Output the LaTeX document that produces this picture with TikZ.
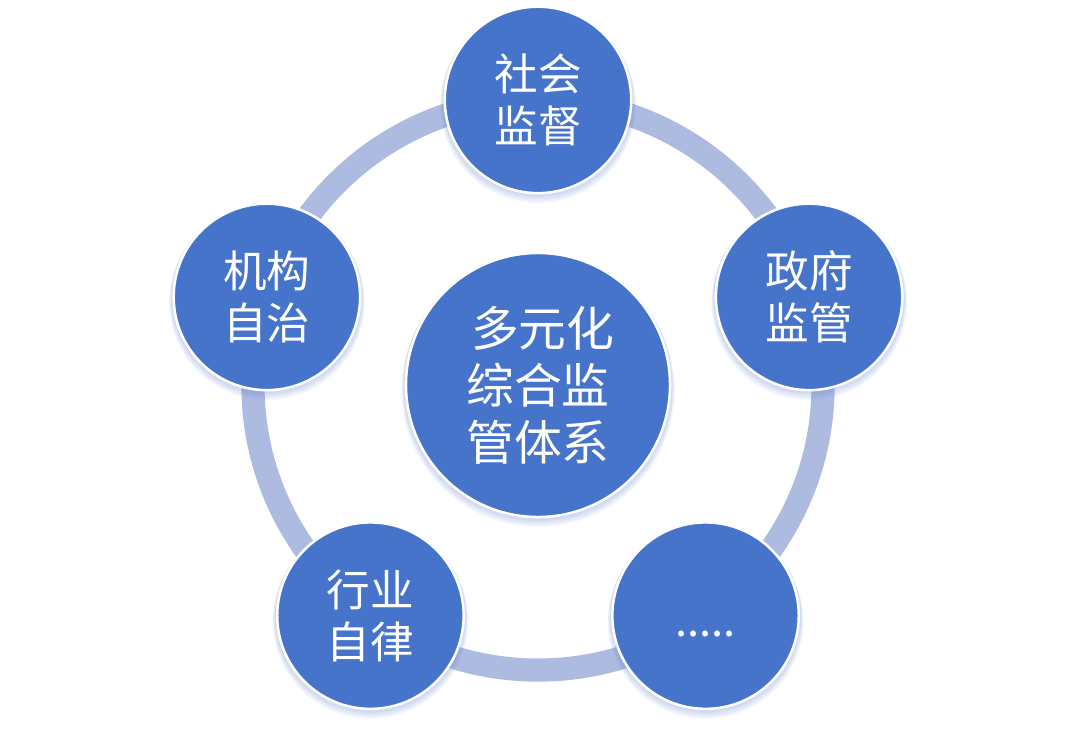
\documentclass[tikz,border=0pt]{standalone}
\usepackage{fontspec}
\setmainfont{Noto Sans CJK SC}
\usetikzlibrary{positioning}
\definecolor{hubBlue}{RGB}{70,116,202}
\definecolor{ringLav}{RGB}{174,187,225}
\definecolor{glowBlue}{RGB}{110,140,215}

\begin{document}
\begin{tikzpicture}[x=0.025cm, y=0.025cm,
    ring/.style={draw=ringLav, line width=0.58cm},
    glow/.style={fill=glowBlue, opacity=0.06},
    sat/.style={circle, draw=white, line width=1.8pt, fill=hubBlue,
                text=white, align=center, inner sep=0pt, minimum size=4.66cm,
                font=\fontsize{31}{37}\selectfont},
    hub/.style={sat, minimum size=6.6cm, font=\fontsize{34}{40.5}\selectfont}
  ]
    \useasboundingbox (0,0) rectangle (1076,732);
    \coordinate (O) at (538,347);
    % Ring
    \draw[ring] (O) circle [radius=7.125cm];
    % Soft glow under the circles
    \foreach \a in {90,162,234,306,18}
      \foreach \i in {1,...,7}
        \fill[glow] ([shift={(\a:7.125cm)}, yshift=-\i*0.55pt]O)
          circle [radius={2.36cm+\i*0.35pt}];
    \foreach \i in {1,...,7}
      \fill[glow] ([yshift=-\i*0.55pt]O) circle [radius={3.33cm+\i*0.35pt}];
    % Centre
    \node[hub] (hub) at (O) {\hspace*{0.2em}多元化\\综合监\\管体系};
    % Satellites
    \node[sat] (soc) at ([shift={(90:7.125cm)}]O) {社会\\监督};
    \node[sat] (gov) at ([shift={(18:7.125cm)}]O) {政府\\监管};
    \node[sat] (etc) at ([shift={(306:7.125cm)}]O) {\rule{0pt}{1.05cm}.....};
    \node[sat] (ind) at ([shift={(234:7.125cm)}]O) {行业\\自律};
    \node[sat] (inst) at ([shift={(162:7.125cm)}]O) {机构\\自治};
\end{tikzpicture}
\end{document}
